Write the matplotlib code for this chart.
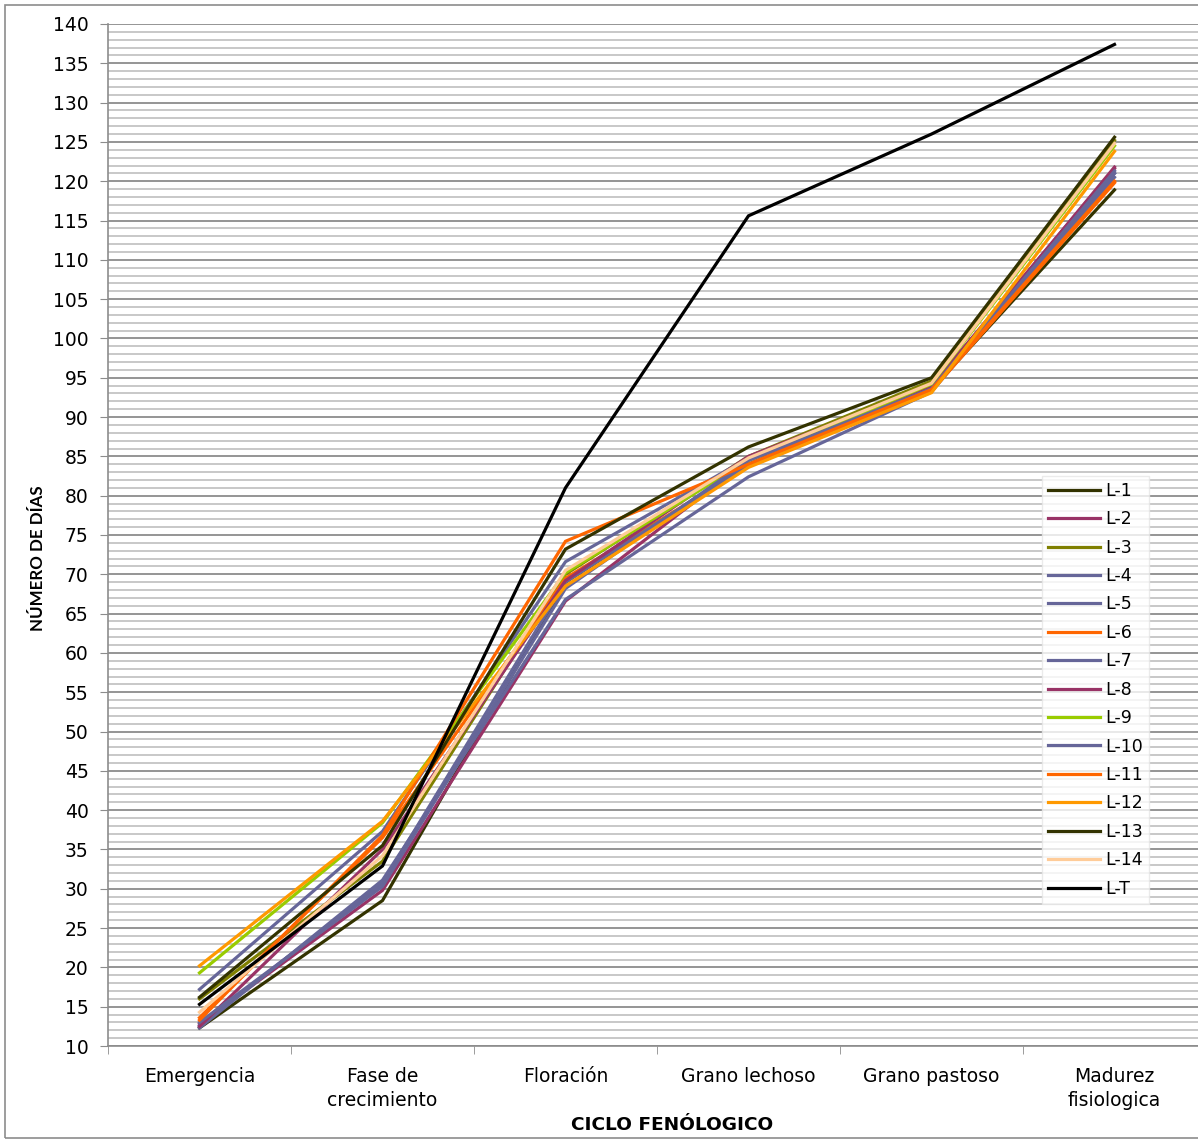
import matplotlib
matplotlib.use("Agg")
import matplotlib.pyplot as plt
from matplotlib.patches import Rectangle
from matplotlib.ticker import MultipleLocator, FixedLocator

# fases del ciclo fenologico
fases = ["Emergencia", "Fase de\ncrecimiento", "Floración", "Grano lechoso",
         "Grano pastoso", "Madurez\nfisiologica"]

# numero de dias por linea
L1 = [12.3, 28.5, 69.0, 84.0, 93.5, 118.9]
L2 = [12.8, 29.8, 66.6, 84.5, 93.6, 121.8]
L3 = [16.0, 33.5, 70.0, 85.0, 94.6, 125.2]
L4 = [17.2, 37.3, 71.6, 84.8, 94.0, 121.0]
L5 = [12.3, 31.1, 66.8, 82.4, 93.2, 121.0]
L6 = [13.6, 36.5, 69.5, 83.8, 93.3, 119.8]
L7 = [12.6, 30.7, 69.0, 84.0, 93.5, 120.5]
L8 = [12.5, 35.0, 69.2, 85.0, 94.0, 121.6]
L9 = [19.3, 38.4, 70.2, 84.5, 94.2, 124.5]
L10 = [13.0, 30.3, 68.2, 84.5, 93.6, 121.3]
L11 = [13.3, 36.8, 74.2, 84.0, 93.5, 120.0]
L12 = [20.2, 38.6, 68.5, 83.6, 93.1, 123.8]
L13 = [16.2, 35.5, 73.2, 86.2, 95.0, 125.6]
L14 = [14.3, 34.2, 70.5, 84.8, 94.3, 124.8]
LT = [15.3, 32.9, 81.0, 115.6, 126.0, 137.4]

series = [L1, L2, L3, L4, L5, L6, L7, L8, L9, L10, L11, L12, L13, L14, LT]
nombres = ["L-1", "L-2", "L-3", "L-4", "L-5", "L-6", "L-7", "L-8", "L-9",
           "L-10", "L-11", "L-12", "L-13", "L-14", "L-T"]
colores = ["#333300", "#993366", "#808000", "#666699", "#666699", "#FF6600",
           "#666699", "#993366", "#99CC00", "#666699", "#FF6600", "#FF9900",
           "#333300", "#FFCC99", "#000000"]

fig = plt.figure(figsize=(11.98, 11.41), dpi=100)
ax = fig.add_axes([108 / 1198, 1 - 1046 / 1141, 1098 / 1198, 1022 / 1141])

x = list(range(len(fases)))
for vals, nom, col in zip(series, nombres, colores):
    ax.plot(x, vals, color=col, lw=2.3, label=nom, solid_joinstyle="miter")

ax.set_xlim(-0.5, len(fases) - 0.5)
ax.set_ylim(10, 140)

# rejilla: cada 5 mas oscura, cada 1 mas clara
ax.yaxis.set_major_locator(MultipleLocator(5))
ax.yaxis.set_minor_locator(MultipleLocator(1))
ax.grid(axis="y", which="minor", color="#c4c4c4", lw=1.3)
ax.grid(axis="y", which="major", color="#8c8c8c", lw=1.3)
ax.set_axisbelow(True)

ax.xaxis.set_major_locator(FixedLocator(x))
ax.xaxis.set_minor_locator(FixedLocator([i - 0.5 for i in range(len(fases) + 1)]))
ax.set_xticklabels(fases, fontsize=13.5, linespacing=1.35)
ax.tick_params(axis="x", which="major", length=0, pad=15)
ax.tick_params(axis="x", which="minor", length=6, color="#8c8c8c", direction="out")
ax.tick_params(axis="y", which="major", length=6, color="#8c8c8c", labelsize=13.5, pad=8)
ax.tick_params(axis="y", which="minor", length=0)

for s in ["top", "right"]:
    ax.spines[s].set_visible(False)
for s in ["left", "bottom"]:
    ax.spines[s].set_color("#8c8c8c")
    ax.spines[s].set_linewidth(1.2)

fig.text(38 / 1198, 1 - 558 / 1141, "NÚMERO DE DÍAS", fontsize=12.2, fontweight="bold",
         family="Lato", rotation=90, ha="center", va="center")
fig.text(672 / 1198, 1 - 1125 / 1141, "CICLO FENÓLOGICO", fontsize=13.3, fontweight="bold",
         family="DejaVu Sans", ha="center", va="center")

leg = ax.legend(loc="upper left", bbox_to_anchor=(1033 / 1198, 1 - 467 / 1141),
                bbox_transform=fig.transFigure, frameon=True, fancybox=False,
                fontsize=12.5, handlelength=3.0, handletextpad=0.3,
                labelspacing=0.6, borderpad=0.35)
leg.get_frame().set_edgecolor("#e6e6e6")
leg.get_frame().set_linewidth(1.0)
for h in leg.get_lines():
    h.set_linewidth(2.3)

# marco exterior del grafico
fig.patches.append(Rectangle((5 / 1198, 3 / 1141), 1.2, 1 - 8 / 1141,
                             transform=fig.transFigure, fill=False,
                             edgecolor="#8c8c8c", lw=1.2))

fig.savefig("out.png", dpi=100)
